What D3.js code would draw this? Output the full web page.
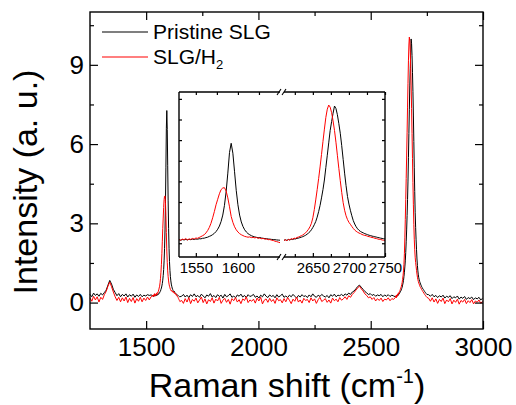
<!DOCTYPE html>
<html>
<head>
<meta charset="utf-8">
<script src="https://cdn.jsdelivr.net/npm/d3@7"></script>
<style>
  body { margin: 0; background: #fff; }
  svg { display: block; font-family: "Liberation Sans", Arial, sans-serif; }
  .tick line { stroke: #000; stroke-width: 1.2; }
  .tick text { fill: #000; }
</style>
</head>
<body>
<svg id="chart" width="516" height="405"></svg>
<script>
// wavenumber grid of the spectrum: [start, end, step] in cm-1 (finer around G and 2D)
const shiftSegments = [[1250, 1522, 8], [1530, 1650, 2], [1658, 2602, 8], [2610, 2750, 2], [2758, 2998, 8]]
const ramanShift = shiftSegments.flatMap(([a, b, s]) => d3.range(a, b + 1, s))

// Pristine SLG (black)
const pristine = [
  // 1250-1522
  0.31, 0.22, 0.36, 0.27, 0.33, 0.24, 0.35, 0.29, 0.38, 0.47, 0.66, 0.84, 0.70, 0.50, 0.38, 0.26, 0.34, 0.22,
  0.31, 0.25, 0.33, 0.21, 0.30, 0.24, 0.32, 0.20, 0.29, 0.23, 0.31, 0.22, 0.28, 0.25, 0.30, 0.27, 0.29,
  // 1530-1650
  0.26, 0.22, 0.27, 0.24, 0.28, 0.25, 0.29, 0.26, 0.30, 0.27, 0.31, 0.29, 0.33, 0.32, 0.36, 0.37,
  0.41, 0.44, 0.50, 0.55, 0.63, 0.72, 0.85, 1.02, 1.25, 1.58, 2.05, 2.75, 3.75, 5.10, 6.60,
  7.27, 6.55, 5.20, 3.85, 2.80, 2.05, 1.55, 1.22, 0.98, 0.82, 0.70, 0.62, 0.55, 0.50, 0.46,
  0.43, 0.40, 0.42, 0.38, 0.36, 0.34, 0.33, 0.31, 0.30, 0.28, 0.27, 0.26, 0.24, 0.23, 0.22,
  // 1658-2602
  0.24, 0.31, 0.21, 0.28, 0.19, 0.30, 0.23, 0.33, 0.22, 0.27,
  0.20, 0.32, 0.25, 0.18, 0.29, 0.24, 0.34, 0.21, 0.27, 0.19,
  0.30, 0.23, 0.28, 0.17, 0.31, 0.22, 0.26, 0.33, 0.20, 0.25,
  0.18, 0.29, 0.24, 0.32, 0.21, 0.27, 0.19, 0.30, 0.23, 0.26,
  0.31, 0.20, 0.25, 0.17, 0.28, 0.22, 0.33, 0.24, 0.19, 0.29,
  0.23, 0.27, 0.18, 0.30, 0.21, 0.26, 0.32, 0.20, 0.25, 0.19,
  0.28, 0.22, 0.31, 0.24, 0.17, 0.27, 0.21, 0.30, 0.23, 0.26,
  0.19, 0.29, 0.22, 0.33, 0.24, 0.20, 0.28, 0.23, 0.31, 0.25,
  0.21, 0.27, 0.18, 0.30, 0.24, 0.32, 0.22, 0.28, 0.26, 0.31,
  0.25, 0.33, 0.28, 0.36, 0.31, 0.40, 0.44, 0.52, 0.61, 0.66,
  0.58, 0.50, 0.42, 0.37, 0.30, 0.34, 0.27, 0.31, 0.24, 0.29,
  0.26, 0.31, 0.22, 0.29, 0.24, 0.30, 0.23, 0.28, 0.25,
  // 2610-2750
  0.22, 0.25, 0.21, 0.27, 0.24, 0.29, 0.27, 0.32, 0.31, 0.36,
  0.37, 0.41, 0.44, 0.48, 0.53, 0.58, 0.66, 0.74, 0.84, 0.98,
  1.15, 1.35, 1.58, 1.90, 2.30, 2.75, 3.30, 3.90, 4.60, 5.50,
  6.40, 7.30, 8.20, 8.85, 9.45, 9.98, 9.80, 9.35, 8.70, 8.00,
  7.10, 6.10, 5.10, 4.20, 3.40, 2.85, 2.40, 2.00, 1.65, 1.40,
  1.20, 1.05, 0.94, 0.86, 0.80, 0.75, 0.70, 0.66, 0.62, 0.58,
  0.56, 0.52, 0.50, 0.47, 0.45, 0.42, 0.40, 0.37, 0.35, 0.33, 0.31,
  // 2758-2998
  0.30, 0.24, 0.31, 0.22, 0.27, 0.19, 0.26, 0.21, 0.28, 0.17, 0.24, 0.20, 0.26, 0.15, 0.22, 0.18,
  0.25, 0.13, 0.21, 0.16, 0.23, 0.12, 0.19, 0.15, 0.21, 0.11, 0.18, 0.14, 0.20, 0.10, 0.16
]

// SLG/H2 (red)
const hydrogenated = [
  // 1250-1522
  0.18, 0.05, 0.24, 0.10, 0.22, 0.02, 0.20, 0.12, 0.30, 0.42, 0.62, 0.78, 0.60, 0.40, 0.22, 0.08, 0.20, 0.03,
  0.18, 0.06, 0.21, 0.00, 0.16, 0.04, 0.19, -0.02, 0.15, 0.05, 0.20, 0.03, 0.17, 0.08, 0.21, 0.10, 0.22,
  // 1530-1650
  0.28, 0.22, 0.30, 0.26, 0.34, 0.24, 0.31, 0.28, 0.35, 0.30, 0.38, 0.36, 0.42, 0.48, 0.55, 0.62,
  0.75, 0.92, 1.15, 1.45, 1.85, 2.30, 2.80, 3.20, 3.60, 3.90, 4.02, 4.04, 3.80, 3.30, 2.65,
  1.95, 1.52, 1.20, 0.98, 0.82, 0.70, 0.62, 0.56, 0.50, 0.47, 0.44, 0.46, 0.41, 0.43, 0.39,
  0.42, 0.36, 0.38, 0.33, 0.35, 0.30, 0.31, 0.26, 0.27, 0.22, 0.20, 0.15, 0.12, 0.08, 0.04,
  // 1658-2602
  0.08, -0.03, 0.15, 0.02, 0.19, -0.04, 0.12, 0.05, 0.17, -0.01,
  0.10, 0.21, 0.00, 0.14, -0.05, 0.11, 0.04, 0.18, -0.02, 0.13,
  0.06, 0.20, -0.03, 0.09, 0.16, 0.01, 0.12, -0.06, 0.15, 0.07,
  0.19, 0.02, 0.11, -0.04, 0.14, 0.08, 0.22, 0.00, 0.10, 0.05,
  0.13, -0.02, 0.17, 0.06, 0.20, -0.05, 0.09, 0.14, 0.01, 0.16,
  0.04, 0.12, -0.03, 0.18, 0.07, 0.11, -0.01, 0.15, 0.03, 0.19,
  0.09, -0.04, 0.13, 0.05, 0.21, 0.02, 0.10, -0.02, 0.16, 0.08,
  0.12, 0.00, 0.18, 0.06, 0.14, -0.03, 0.11, 0.20, 0.04, 0.09,
  0.15, 0.01, 0.10, -0.02, 0.17, 0.07, 0.13, 0.03, 0.19, 0.09,
  0.14, 0.22, 0.12, 0.26, 0.20, 0.31, 0.38, 0.47, 0.56, 0.62,
  0.52, 0.44, 0.33, 0.27, 0.18, 0.22, 0.12, 0.19, 0.06, 0.15,
  0.08, 0.17, 0.04, 0.13, 0.10, 0.18, 0.07, 0.15, 0.12,
  // 2610-2750
  0.20, 0.26, 0.18, 0.29, 0.24, 0.33, 0.30, 0.37, 0.35, 0.42,
  0.45, 0.50, 0.55, 0.60, 0.68, 0.76, 0.88, 1.02, 1.20, 1.45,
  1.85, 2.45, 3.15, 3.90, 4.70, 5.55, 6.45, 7.40, 8.30, 9.15,
  9.75, 10.05, 9.90, 9.50, 8.90, 8.20, 7.35, 6.40, 5.45, 4.55,
  3.70, 2.95, 2.40, 2.00, 1.72, 1.52, 1.38, 1.22, 1.08, 0.96,
  0.87, 0.80, 0.74, 0.70, 0.64, 0.60, 0.57, 0.55, 0.50, 0.48,
  0.45, 0.42, 0.40, 0.36, 0.34, 0.31, 0.28, 0.27, 0.24, 0.22, 0.20,
  // 2758-2998
  0.16, 0.05, 0.18, 0.02, 0.14, -0.03, 0.12, 0.04, 0.17, -0.04, 0.10, 0.03, 0.15, -0.05, 0.09, 0.01,
  0.13, -0.06, 0.08, 0.02, 0.12, -0.04, 0.07, 0.00, 0.11, -0.05, 0.06, 0.01, 0.10, -0.03, 0.05
]

const seriesNames = ['Pristine SLG', 'SLG/H']
const seriesColors = ['#000000', '#ff0000']

const mainXTicks = [1500, 2000, 2500, 3000]
const mainXMinor = [1750, 2250, 2750]
const mainYTicks = [0, 3, 6, 9]
const mainYMinor = [1.5, 4.5, 7.5, 10.5]
const insetLeftTicks = [1550, 1600]
const insetLeftMinor = [1575, 1625]
const insetRightTicks = [2650, 2700, 2750]
const insetRightMinor = [2625, 2675, 2725]
const insetYTicks = [0, 1.5, 3, 4.5, 6, 7.5, 9, 10.5]

if (pristine.length !== ramanShift.length || hydrogenated.length !== ramanShift.length) {
  console.warn('length mismatch', ramanShift.length, pristine.length, hydrogenated.length)
}

const spectra = [pristine, hydrogenated].map((vals, i) => ({
  name: seriesNames[i],
  color: seriesColors[i],
  points: ramanShift.map((s, j) => ({ s: s, v: vals[j] }))
}))

const svg = d3.select('#chart')

// ---------- main plot ----------
const xScale = d3.scaleLinear().domain([1250, 3000]).range([90, 483])
const yScale = d3.scaleLinear().domain([-1, 11]).range([329, 12])

const mainLine = d3.line().x(d => xScale(d.s)).y(d => yScale(d.v))

svg.append('g')
  .selectAll('.spec')
  .data(spectra)
  .enter()
  .append('path')
  .attr('d', d => mainLine(d.points))
  .attr('fill', 'none')
  .attr('stroke', d => d.color)
  .attr('stroke-width', 1)
  .attr('stroke-linejoin', 'round')

function axisGroup(axis, tx, ty, size, fontSize) {
  const g = svg.append('g').attr('transform', `translate(${tx},${ty})`).call(axis)
  g.select('.domain').remove()
  g.selectAll('text').attr('font-size', fontSize).attr('font-family', '"Liberation Sans", Arial, sans-serif')
  return g
}

// bottom / top
axisGroup(d3.axisBottom(xScale).tickValues(mainXTicks).tickSizeInner(-8).tickSizeOuter(0).tickPadding(9).tickFormat(d3.format('d')), 0, 329, 8, 26)
axisGroup(d3.axisBottom(xScale).tickValues(mainXMinor).tickSizeInner(-4).tickSizeOuter(0).tickFormat(''), 0, 329)
axisGroup(d3.axisTop(xScale).tickValues(mainXTicks).tickSizeInner(-8).tickSizeOuter(0).tickFormat(''), 0, 12)
axisGroup(d3.axisTop(xScale).tickValues(mainXMinor).tickSizeInner(-4).tickSizeOuter(0).tickFormat(''), 0, 12)
// left / right
axisGroup(d3.axisLeft(yScale).tickValues(mainYTicks).tickSizeInner(-8).tickSizeOuter(0).tickPadding(6).tickFormat(d3.format('d')), 90, 0, 8, 26)
axisGroup(d3.axisLeft(yScale).tickValues(mainYMinor).tickSizeInner(-4).tickSizeOuter(0).tickFormat(''), 90, 0)
axisGroup(d3.axisRight(yScale).tickValues(mainYTicks).tickSizeInner(-8).tickSizeOuter(0).tickFormat(''), 483, 0)
axisGroup(d3.axisRight(yScale).tickValues(mainYMinor).tickSizeInner(-4).tickSizeOuter(0).tickFormat(''), 483, 0)

svg.append('rect')
  .attr('x', 90).attr('y', 12)
  .attr('width', 483 - 90).attr('height', 329 - 12)
  .attr('fill', 'none').attr('stroke', '#000').attr('stroke-width', 1.4)

// axis titles
svg.append('text')
  .attr('x', 287).attr('y', 397)
  .attr('text-anchor', 'middle')
  .attr('font-size', 34)
  .text('Raman shift (cm')
  .call(t => {
    t.append('tspan').attr('font-size', 20).attr('dy', -14).text('-1')
    t.append('tspan').attr('dy', 14).text(')')
  })

svg.append('text')
  .attr('transform', 'translate(37,182) rotate(-90)')
  .attr('text-anchor', 'middle')
  .attr('font-size', 34)
  .text('Intensity (a. u.)')

// legend
const legend = svg.append('g')
spectra.forEach((d, i) => {
  const ly = 32 + i * 25
  legend.append('line')
    .attr('x1', 102).attr('x2', 148)
    .attr('y1', ly).attr('y2', ly)
    .attr('stroke', d.color).attr('stroke-width', 1.2)
  const t = legend.append('text')
    .attr('x', 153).attr('y', ly + 7)
    .attr('font-size', 21)
    .text(d.name)
  if (i === 1) t.append('tspan').attr('font-size', 13).attr('dy', 5).text('2')
})

// ---------- inset (broken x axis) ----------
const inL = 179, inR = 385, inT = 92, inB = 257
const xLeft = d3.scaleLinear().domain([1530, 1650]).range([inL, 280])
const xRight = d3.scaleLinear().domain([2610, 2750]).range([284, inR])
const yInset = d3.scaleLinear().domain([-1, 11]).range([inB, inT])

svg.append('rect')
  .attr('x', inL).attr('y', inT)
  .attr('width', inR - inL).attr('height', inB - inT)
  .attr('fill', '#fff')

const parts = [
  { sc: xLeft, lo: 1530, hi: 1650 },
  { sc: xRight, lo: 2610, hi: 2750 }
]
parts.forEach(p => {
  const ln = d3.line().x(d => p.sc(d.s)).y(d => yInset(d.v))
  svg.append('g')
    .selectAll('path')
    .data(spectra)
    .enter()
    .append('path')
    .attr('d', d => ln(d.points.filter(q => q.s >= p.lo && q.s <= p.hi)))
    .attr('fill', 'none')
    .attr('stroke', d => d.color)
    .attr('stroke-width', 1)
    .attr('stroke-linejoin', 'round')
})

// inset ticks
axisGroup(d3.axisBottom(xLeft).tickValues(insetLeftTicks).tickSizeInner(-4).tickSizeOuter(0).tickPadding(5).tickFormat(d3.format('d')), 0, inB, 4, 15)
axisGroup(d3.axisBottom(xLeft).tickValues(insetLeftMinor).tickSizeInner(-3).tickSizeOuter(0).tickFormat(''), 0, inB)
axisGroup(d3.axisBottom(xRight).tickValues(insetRightTicks).tickSizeInner(-4).tickSizeOuter(0).tickPadding(5).tickFormat(d3.format('d')), 0, inB, 4, 15)
axisGroup(d3.axisBottom(xRight).tickValues(insetRightMinor).tickSizeInner(-3).tickSizeOuter(0).tickFormat(''), 0, inB)
axisGroup(d3.axisTop(xLeft).tickValues(insetLeftTicks.concat(insetLeftMinor)).tickSizeInner(-3).tickSizeOuter(0).tickFormat(''), 0, inT)
axisGroup(d3.axisTop(xRight).tickValues(insetRightTicks.concat(insetRightMinor)).tickSizeInner(-3).tickSizeOuter(0).tickFormat(''), 0, inT)
axisGroup(d3.axisLeft(yInset).tickValues(insetYTicks).tickSizeInner(-3).tickSizeOuter(0).tickFormat(''), inL, 0)
axisGroup(d3.axisRight(yInset).tickValues(insetYTicks).tickSizeInner(-3).tickSizeOuter(0).tickFormat(''), inR, 0)

// inset frame with a gap at the break
const frame = svg.append('g').attr('stroke', '#000').attr('stroke-width', 1.4).attr('fill', 'none')
frame.append('line').attr('x1', inL).attr('x2', inL).attr('y1', inT).attr('y2', inB)
frame.append('line').attr('x1', inR).attr('x2', inR).attr('y1', inT).attr('y2', inB)
;[inT, inB].forEach(yy => {
  frame.append('line').attr('x1', inL).attr('x2', 280).attr('y1', yy).attr('y2', yy)
  frame.append('line').attr('x1', 284).attr('x2', inR).attr('y1', yy).attr('y2', yy)
  frame.append('line').attr('x1', 277).attr('x2', 281).attr('y1', yy + 3).attr('y2', yy - 3).attr('stroke-width', 1.1)
  frame.append('line').attr('x1', 282).attr('x2', 286).attr('y1', yy + 3).attr('y2', yy - 3).attr('stroke-width', 1.1)
})
</script>
</body>
</html>
